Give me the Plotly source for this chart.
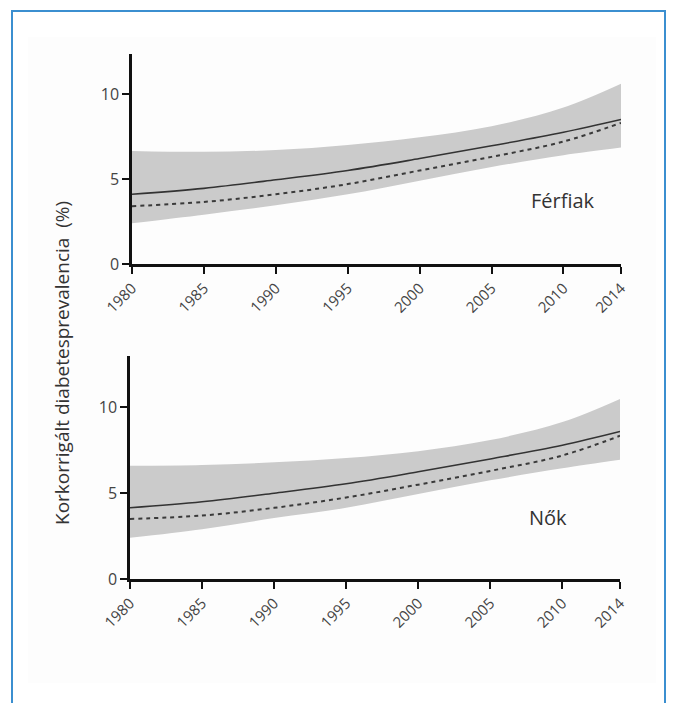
import plotly.graph_objects as go

W, H = 674, 703
OFF_X, OFF_Y = 8, 7  # page body offset compensation

years = [1980, 1985, 1990, 1995, 2000, 2005, 2010, 2014]
tick_years = [1980, 1985, 1990, 1995, 2000, 2005, 2010, 2014]
tick_labels = ["1980", "1985", "1990", "1995", "2000", "2005", "2010", "2014"]
y_ticks = [0, 5, 10]

# Férfiak (men)
men_solid = [4.1, 4.45, 4.95, 5.5, 6.2, 6.95, 7.75, 8.5]
men_dashed = [3.4, 3.65, 4.1, 4.7, 5.5, 6.3, 7.2, 8.3]
men_upper = [6.65, 6.6, 6.7, 7.0, 7.45, 8.1, 9.2, 10.6]
men_lower = [2.4, 2.9, 3.45, 4.1, 4.9, 5.7, 6.4, 6.85]

# Nők (women)
women_solid = [4.15, 4.5, 5.0, 5.55, 6.25, 7.0, 7.8, 8.6]
women_dashed = [3.5, 3.7, 4.15, 4.75, 5.5, 6.3, 7.2, 8.35]
women_upper = [6.6, 6.65, 6.8, 7.05, 7.45, 8.1, 9.15, 10.5]
women_lower = [2.4, 2.9, 3.55, 4.15, 4.95, 5.75, 6.45, 6.95]

panel_labels = ["Férfiak", "Nők"]
y_title = "Korkorrigált diabetesprevalencia  (%)"

FONT = "Open Sans, Lato, sans-serif"
BAND = "#cbcbcb"
LINE = "#333333"


def px_x(p):
    return (p - OFF_X) / W


def px_y(p):
    return 1 - (p - OFF_Y) / H


fig = go.Figure()

panels = [
    dict(solid=men_solid, dashed=men_dashed, upper=men_upper, lower=men_lower,
         xa="x", ya="y", xax="xaxis", yax="yaxis",
         xdom=(132, 621), ydom=(53, 263), ymax=12.35,
         label=panel_labels[0], lab_xy=(563, 199)),
    dict(solid=women_solid, dashed=women_dashed, upper=women_upper, lower=women_lower,
         xa="x2", ya="y2", xax="xaxis2", yax="yaxis2",
         xdom=(130, 620), ydom=(355, 578), ymax=13.0,
         label=panel_labels[1], lab_xy=(548, 516)),
]

layout_axes = {}
annotations = []
for p in panels:
    fig.add_trace(go.Scatter(x=years, y=p["lower"], mode="lines", line=dict(width=0, shape="spline"),
                             xaxis=p["xa"], yaxis=p["ya"], showlegend=False, hoverinfo="skip"))
    fig.add_trace(go.Scatter(x=years, y=p["upper"], mode="lines", line=dict(width=0, shape="spline"),
                             fill="tonexty", fillcolor=BAND,
                             xaxis=p["xa"], yaxis=p["ya"], showlegend=False, hoverinfo="skip"))
    fig.add_trace(go.Scatter(x=years, y=p["dashed"], mode="lines",
                             line=dict(color="#3a3a3a", width=2, dash="4px,4px", shape="spline"),
                             xaxis=p["xa"], yaxis=p["ya"], showlegend=False))
    fig.add_trace(go.Scatter(x=years, y=p["solid"], mode="lines",
                             line=dict(color=LINE, width=1.6, shape="spline"),
                             xaxis=p["xa"], yaxis=p["ya"], showlegend=False))

    layout_axes[p["xax"]] = dict(
        domain=[px_x(p["xdom"][0]), px_x(p["xdom"][1])],
        range=[1980, 2014], tickmode="array", tickvals=tick_years, ticktext=tick_labels,
        tickangle=-45, ticks="outside", ticklen=7, tickwidth=2, tickcolor="#111",
        showline=True, linecolor="#111", linewidth=2.5, showgrid=False, zeroline=False,
        tickfont=dict(family=FONT, size=15, color="#444"),
        anchor=p["ya"], automargin=False,
    )
    layout_axes[p["yax"]] = dict(
        domain=[px_y(p["ydom"][1]), px_y(p["ydom"][0])],
        range=[0, p["ymax"]], tickmode="array", tickvals=y_ticks,
        ticks="outside", ticklen=7, tickwidth=2, tickcolor="#111",
        showline=True, linecolor="#111", linewidth=2.5, showgrid=False, zeroline=False,
        tickfont=dict(family=FONT, size=16, color="#444"),
        anchor=p["xa"], automargin=False,
    )
    annotations.append(dict(x=px_x(p["lab_xy"][0]), y=px_y(p["lab_xy"][1]), xref="paper", yref="paper",
                            xanchor="center", yanchor="middle",
                            text=p["label"], showarrow=False,
                            font=dict(family=FONT, size=20, color="#333")))

annotations.append(dict(x=px_x(62), y=px_y(362), xref="paper", yref="paper", text=y_title,
                        xanchor="center", yanchor="middle",
                        textangle=-90, showarrow=False,
                        font=dict(family=FONT, size=19, color="#333")))

fig.update_layout(
    width=W, height=H,
    margin=dict(l=0, r=0, t=0, b=0, pad=0, autoexpand=False),
    paper_bgcolor="white", plot_bgcolor="rgba(0,0,0,0)",
    annotations=annotations,
    shapes=[
        dict(type="rect", xref="paper", yref="paper", layer="below",
             x0=px_x(28), x1=px_x(656), y0=px_y(682), y1=px_y(36),
             fillcolor="#fdfdfd", line=dict(width=0)),
        dict(type="rect", xref="paper", yref="paper", layer="above",
             x0=px_x(12), x1=px_x(665), y0=px_y(720), y1=px_y(10),
             fillcolor="rgba(0,0,0,0)", line=dict(color="#3b8fd0", width=2)),
    ],
    **layout_axes,
)

fig.write_html("out.html")
